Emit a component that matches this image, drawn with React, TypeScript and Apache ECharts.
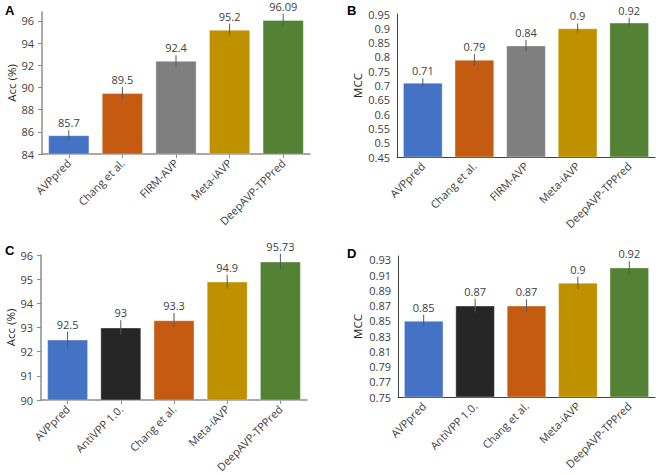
import React, { useEffect, useRef } from "react";
import * as echarts from "echarts";

const FONT = "Open Sans";

const catsAB = ["AVPpred", "Chang et al.", "FIRM-AVP", "Meta-iAVP", "DeepAVP-TPPred"];
const catsCD = ["AVPpred", "AntiVPP 1.0.", "Chang et al.", "Meta-iAVP", "DeepAVP-TPPred"];

const colorsAB = ["#4472C4", "#C55A11", "#7F7F7F", "#BF9000", "#548235"];
const colorsCD = ["#4472C4", "#262626", "#C55A11", "#BF9000", "#548235"];

const accA = [85.7, 89.5, 92.4, 95.2, 96.09];
const errA = [0.45, 0.55, 0.5, 0.55, 0.55];
const ticksA = [84, 86, 88, 90, 92, 94, 96];

const mccB = [0.71, 0.79, 0.84, 0.9, 0.92];
const errB = [0.015, 0.02, 0.02, 0.017, 0.017];
const ticksB = [0.45, 0.5, 0.55, 0.6, 0.65, 0.7, 0.75, 0.8, 0.85, 0.9, 0.95];

const accC = [92.5, 93, 93.3, 94.9, 95.73];
const errC = [0.33, 0.3, 0.3, 0.28, 0.32];
const ticksC = [90, 91, 92, 93, 94, 95, 96];

const mccD = [0.85, 0.87, 0.87, 0.9, 0.92];
const errD = [0.008, 0.009, 0.008, 0.008, 0.008];
const ticksD = [0.75, 0.77, 0.79, 0.81, 0.83, 0.85, 0.87, 0.89, 0.91, 0.93];

type Panel = {
  cats: string[];
  colors: string[];
  values: number[];
  errs: number[];
  ticks: number[];
  min: number;
  max: number;
  name: string;
  nameGap: number;
  grid: { left: number; top: number; width: number; height: number };
  excelStyle: boolean;
  labelMargin: number;
};

const panels: Panel[] = [
  { cats: catsAB, colors: colorsAB, values: accA, errs: errA, ticks: ticksA, min: 84, max: 96.8, name: "Acc (%)", nameGap: 25,
    grid: { left: 42, top: 12, width: 268, height: 142 }, excelStyle: true, labelMargin: 8 },
  { cats: catsAB, colors: colorsAB, values: mccB, errs: errB, ticks: ticksB, min: 0.45, max: 0.95, name: "MCC", nameGap: 34,
    grid: { left: 397, top: 14, width: 258, height: 143 }, excelStyle: false, labelMargin: 7 },
  { cats: catsCD, colors: colorsCD, values: accC, errs: errC, ticks: ticksC, min: 90, max: 96, name: "Acc (%)", nameGap: 24,
    grid: { left: 41, top: 255, width: 266, height: 145 }, excelStyle: true, labelMargin: 8 },
  { cats: catsCD, colors: colorsCD, values: mccD, errs: errD, ticks: ticksD, min: 0.75, max: 0.935, name: "MCC", nameGap: 35,
    grid: { left: 398, top: 256, width: 257, height: 141 }, excelStyle: false, labelMargin: 7 },
];

const letters = [
  { t: "A", x: 5, y: 4 },
  { t: "B", x: 347, y: 4 },
  { t: "C", x: 5, y: 244 },
  { t: "D", x: 347, y: 247 },
];

export default function App() {
  const ref = useRef<HTMLDivElement>(null);
  useEffect(() => {
    if (!ref.current) return;
    const chart = echarts.init(ref.current, undefined, { renderer: "svg" });
    const grid: any[] = [];
    const xAxis: any[] = [];
    const yAxis: any[] = [];
    const series: any[] = [];
    panels.forEach((p, i) => {
      const axisColor = p.excelStyle ? "#8C8C8C" : "#404040";
      grid.push({ ...p.grid, containLabel: false });
      xAxis.push({
        type: "category",
        gridIndex: i,
        data: p.cats,
        axisLine: { show: true, lineStyle: { color: axisColor, width: p.excelStyle ? 1.5 : 1 } },
        axisTick: { show: p.excelStyle, alignWithLabel: true, length: 4, lineStyle: { color: axisColor } },
        axisLabel: { rotate: 45, margin: 7, fontSize: 11, color: "#404040", fontFamily: FONT, interval: 0 },
      });
      yAxis.push({
        type: "value",
        gridIndex: i,
        min: p.min,
        max: p.max,
        name: p.name,
        nameLocation: "middle",
        nameGap: p.nameGap,
        nameRotate: 90,
        nameTextStyle: { fontSize: 11.5, color: "#262626", fontFamily: FONT },
        splitLine: { show: false },
        axisLine: { show: true, lineStyle: { color: axisColor, width: p.excelStyle ? 1.5 : 1 } },
        axisTick: { show: p.excelStyle, length: 4, customValues: p.ticks, lineStyle: { color: axisColor } },
        axisLabel: {
          customValues: p.ticks,
          margin: p.labelMargin,
          fontSize: 11,
          color: "#404040",
          fontFamily: FONT,
        },
      });
      series.push({
        type: "bar",
        xAxisIndex: i,
        yAxisIndex: i,
        barCategoryGap: "23%",
        data: p.values.map((v, k) => ({
          value: v,
          itemStyle: { color: p.colors[k], borderColor: "rgba(255,255,255,0.35)", borderWidth: 1 },
        })),
      });
      series.push({
        type: "custom",
        xAxisIndex: i,
        yAxisIndex: i,
        data: p.values.map((v, k) => [k, v, p.errs[k]]),
        encode: { x: 0, y: 1 },
        z: 5,
        renderItem: (params: any, api: any) => {
          const k = api.value(0);
          const v = api.value(1);
          const e = api.value(2);
          const top = api.coord([k, v + e]);
          const bot = api.coord([k, v - e]);
          return {
            type: "group",
            children: [
              {
                type: "line",
                shape: { x1: top[0], y1: top[1], x2: bot[0], y2: bot[1] },
                style: { stroke: "#595959", lineWidth: 1 },
              },
              {
                type: "text",
                x: top[0],
                y: top[1] - 2,
                style: {
                  text: String(p.values[params.dataIndex]),
                  align: "center",
                  verticalAlign: "bottom",
                  fontSize: 11,
                  fill: "#404040",
                  fontFamily: FONT,
                },
              },
            ],
          };
        },
      });
    });
    chart.setOption({
      animation: false,
      backgroundColor: "#ffffff",
      grid,
      xAxis,
      yAxis,
      series,
      graphic: letters.map((l) => ({
        type: "text",
        left: l.x,
        top: l.y,
        style: { text: l.t, fontSize: 13, fontWeight: "bold", fill: "#000", fontFamily: "Liberation Sans" },
      })),
    });
    return () => chart.dispose();
  }, []);
  return (
    <div
      ref={ref}
      style={{ position: "fixed", left: 0, top: 0, width: 658, height: 475, background: "#fff" }}
    />
  );
}
